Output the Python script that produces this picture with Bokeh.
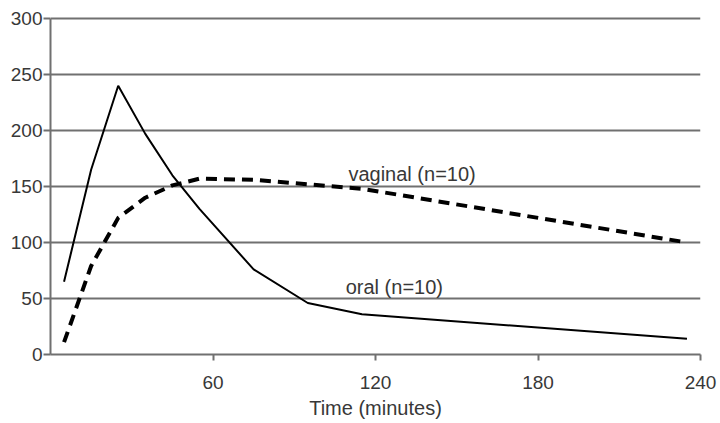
from bokeh.plotting import figure
from bokeh.models import Range1d, FixedTicker, Label
from bokeh.embed import file_html
from bokeh.resources import INLINE

# Data
time_min = [5, 15, 25, 35, 45, 55, 75, 95, 115, 235]
oral = [65, 165, 240, 197, 160, 130, 76, 46, 36, 14]
vaginal = [11, 79, 122, 140, 151, 157, 156, 152, 148, 100]
x_ticks = [60, 120, 180, 240]
y_ticks = [0, 50, 100, 150, 200, 250, 300]

FONT = "Liberation Sans"
GRID = "#707070"
TXT = "#383838"

p = figure(width=720, height=423, output_backend="svg", toolbar_location=None,
           x_range=Range1d(0, 240), y_range=Range1d(0, 302.7),
           min_border_left=50, min_border_right=20, min_border_top=15, min_border_bottom=69)
p.outline_line_color = None
p.background_fill_color = "white"
p.border_fill_color = "white"

p.xgrid.grid_line_color = None
p.ygrid.grid_line_color = GRID
p.ygrid.grid_line_width = 2
p.ygrid.ticker = FixedTicker(ticks=y_ticks)

p.xaxis.ticker = FixedTicker(ticks=x_ticks)
p.yaxis.ticker = FixedTicker(ticks=y_ticks)
p.xaxis.bounds = (0, 240)
p.yaxis.bounds = (0, 300)
for ax in (p.xaxis, p.yaxis):
    ax.axis_line_color = GRID
    ax.axis_line_width = 2
    ax.major_tick_line_color = GRID
    ax.major_tick_line_width = 2
    ax.major_tick_in = 0
    ax.minor_tick_line_color = None
    ax.major_label_text_font = FONT
    ax.major_label_text_font_size = "19px"
    ax.major_label_text_color = TXT
p.yaxis.major_tick_out = 7
p.yaxis.major_label_standoff = 1
p.xaxis.major_tick_out = 6
p.xaxis.major_label_standoff = 15
p.xaxis.axis_label = "Time (minutes)"
p.xaxis.axis_label_text_font = FONT
p.xaxis.axis_label_text_font_size = "20px"
p.xaxis.axis_label_text_font_style = "normal"
p.xaxis.axis_label_text_color = TXT
p.xaxis.axis_label_standoff = 5

p.line(time_min, oral, line_color="black", line_width=2)
p.line(time_min, vaginal, line_color="black", line_width=4, line_dash="11 7")

p.add_layout(Label(x=110, y=161, text="vaginal (n=10)", text_font=FONT,
                   text_font_size="20px", text_color=TXT, text_baseline="alphabetic"))
p.add_layout(Label(x=109, y=60, text="oral (n=10)", text_font=FONT,
                   text_font_size="20px", text_color=TXT, text_baseline="alphabetic"))

open("out.html", "w").write(file_html(p, INLINE))
